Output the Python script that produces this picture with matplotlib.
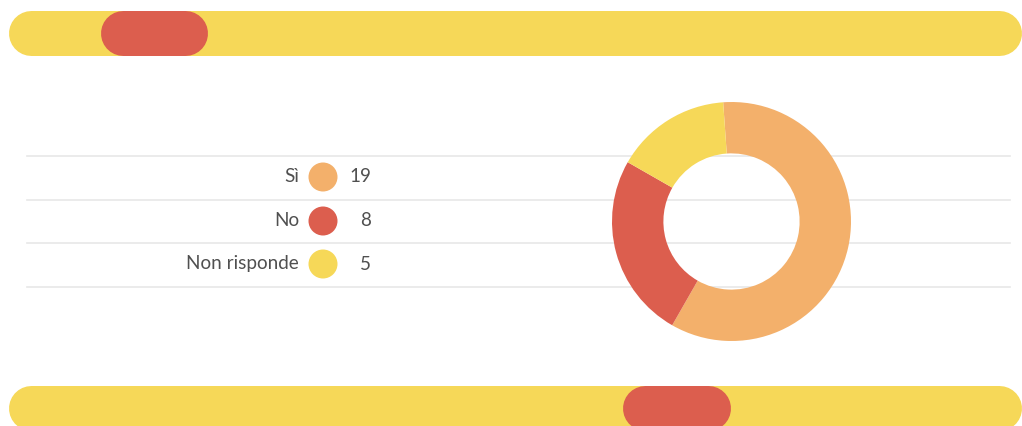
import numpy as np
import matplotlib
matplotlib.use("Agg")
import matplotlib.pyplot as plt
from matplotlib.patches import Circle

#data
categories = ["Sì", "No", "Non risponde"]
values = [19, 8, 5]
colors = ["#F3B06B", "#DC5E4E", "#F6D858"]

W, H = 1022, 426
plt.rcParams['font.family'] = ['Lato', 'DejaVu Sans']

fig = plt.figure(figsize=(W/100, H/100), dpi=100)
ax = fig.add_axes([0, 0, 1, 1])

def py(y):
	#convert from top-down pixel to axis coord
	return H - y

#grid lines of the legend table
for y in [156, 200, 243, 287]:
	ax.plot([27, 1010], [py(y), py(y)], color="#e8e8e8", lw=1.2, zorder=0)

#legend rows
row_y = [177, 221, 264]
for i, (cat, v, c) in enumerate(zip(categories, values, colors)):
	ax.text(299, py(row_y[i]), cat, ha="right", va="center", fontsize=13.6,
		color="#505050")
	ax.add_patch(Circle((323, py(row_y[i])), 14.5, color=c, lw=0, zorder=2))
	ax.text(371, py(row_y[i]), str(v), ha="right", va="center", fontsize=13.6,
		color="#505050")

#donut
cx, cy, r = 731.5, py(221.5), 119.5
ax.pie(values, colors=colors, startangle=94, counterclock=False, center=(cx, cy), radius=r,
	wedgeprops=dict(width=r*0.43, linewidth=0))

#slider bars, drawn as thick lines with round caps (45 px tall)
def pill(x0, x1, yc, c):
	h = 45
	ax.plot([x0 + h/2, x1 - h/2], [py(yc), py(yc)], color=c, lw=h*0.72,
		solid_capstyle="round", zorder=3)

pill(8, 1021, 32.5, "#F6D858")
pill(100, 207, 32.5, "#DC5E4E")
pill(8, 1021, 407.5, "#F6D858")
pill(622, 730, 407.5, "#DC5E4E")

ax.set_xlim(0, W)
ax.set_ylim(0, H)
ax.set_aspect("auto")
ax.axis("off")

fig.savefig("out.png", dpi=100, facecolor="white")
